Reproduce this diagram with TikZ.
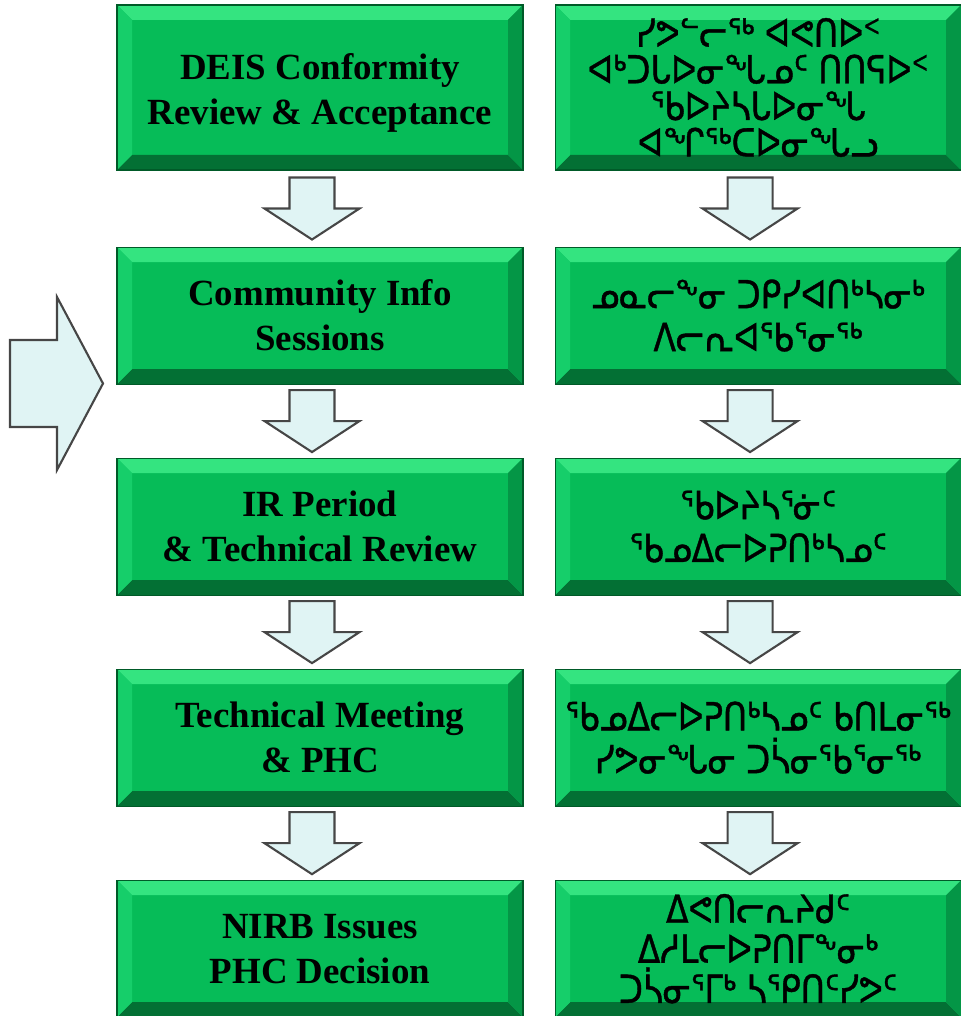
\documentclass[tikz,border=0pt]{standalone}
\usepackage{fontspec}
\setmainfont{Liberation Serif}
\newfontfamily\syllfont[FakeStretch=0.85,FakeBold=1]{DejaVu Sans}
\usetikzlibrary{positioning}
\usetikzlibrary{calc}

\definecolor{boxface}{RGB}{6,188,88}
\definecolor{bevtop}{RGB}{52,228,128}
\definecolor{bevleft}{RGB}{22,206,106}
\definecolor{bevright}{RGB}{4,150,70}
\definecolor{bevbottom}{RGB}{3,112,52}
\definecolor{boxedge}{RGB}{0,90,40}
\definecolor{arrowfill}{RGB}{224,244,244}
\definecolor{arrowedge}{RGB}{70,70,70}

\newcommand{\bev}{0.15}

\tikzset{
  stage/.style={rectangle, inner sep=0pt, minimum width=4.06cm, minimum height=1.37cm,
    fill=boxface, draw=boxedge, line width=0.3pt, align=center,
    path picture={
      \path (path picture bounding box.south west) coordinate (pa)
            (path picture bounding box.north east) coordinate (pb);
      \fill[bevtop] (pa |- pb) -- (pb) -- ($(pb)+(-\bev,-\bev)$) -- ($(pa |- pb)+(\bev,-\bev)$) -- cycle;
      \fill[bevbottom] (pa) -- (pb |- pa) -- ($(pb |- pa)+(-\bev,\bev)$) -- ($(pa)+(\bev,\bev)$) -- cycle;
      \fill[bevleft] (pa) -- (pa |- pb) -- ($(pa |- pb)+(\bev,-\bev)$) -- ($(pa)+(\bev,\bev)$) -- cycle;
      \fill[bevright] (pb |- pa) -- (pb) -- ($(pb)+(-\bev,-\bev)$) -- ($(pb |- pa)+(-\bev,\bev)$) -- cycle;
    }},
  en/.style={font=\bfseries\fontsize{10.5}{12.8}\selectfont},
  iu/.style={font=\syllfont\fontsize{11}{12.2}\selectfont},
  blockarrow/.style={fill=arrowfill, draw=arrowedge, line width=0.6pt, line join=miter}
}

\begin{document}
\begin{tikzpicture}
  \useasboundingbox (0,0) rectangle (9.6,10.16);

  % english column
  \node[stage, en, minimum height=1.65cm] (l1) at (3.20,9.285) {\rule{0pt}{0.36cm}DEIS Conformity\\Review \& Acceptance};
  \node[stage, en] (l2) [below=0.76cm of l1] {Community Info\\Sessions};
  \node[stage, en] (l3) [below=0.73cm of l2] {IR Period\\\& Technical Review};
  \node[stage, en] (l4) [below=0.73cm of l3] {Technical Meeting\\\& PHC};
  \node[stage, en] (l5) [below=0.73cm of l4] {NIRB Issues\\PHC Decision};

  % inuktitut column
  \node[stage, iu, minimum height=1.65cm, font=\syllfont\fontsize{11}{10.4}\selectfont] (r1) [right=0.31cm of l1]
    {ᓯᕗᓪᓕᖅ ᐊᕙᑎᐅᑉ\\ᐊᒃᑐᒐᐅᓂᖓᓄᑦ ᑎᑎᕋᐅᑉ\\ᖃᐅᔨᓴᒐᐅᓂᖓ\\ᐊᖏᖅᑕᐅᓂᖓᓗ};
  \node[stage, iu] (r2) [right=0.31cm of l2] {ᓄᓇᓕᖕᓂ ᑐᑭᓯᐊᑎᒃᓴᓂᒃ\\ᐱᓕᕆᐊᖃᕐᓂᖅ};
  \node[stage, iu] (r3) [right=0.31cm of l3] {ᖃᐅᔨᓴᕐᓃᑦ\\ᖃᓄᐃᓕᐅᕈᑎᒃᓴᓄᑦ};
  \node[stage, iu] (r4) [right=0.31cm of l4] {ᖃᓄᐃᓕᐅᕈᑎᒃᓴᓄᑦ ᑲᑎᒪᓂᖅ\\ᓯᕗᓂᖓᓂ ᑐᓵᓂᖃᕐᓂᖅ};
  \node[stage, iu, font=\syllfont\fontsize{11}{11.4}\selectfont] (r5) [right=0.31cm of l5]
    {ᐃᕙᑎᓕᕆᔨᑯᑦ\\ᐃᓱᒪᓕᐅᕈᑎᒥᖕᓂᒃ\\ᑐᓵᓂᕐᒥᒃ ᓴᕿᑎᑦᓯᕗᑦ};

  % down arrows between the stages
  \foreach \a/\b [count=\i] in {l1/l2,l2/l3,l3/l4,l4/l5,r1/r2,r2/r3,r3/r4,r4/r5} {
    \coordinate (mid\i) at ($(\a.south)!0.5!(\b.north)+(-0.08,0)$);
    \draw[blockarrow, shift={(mid\i)}] (-0.225,0.31) -- (0.225,0.31) -- (0.225,0) -- (0.475,0)
      -- (0,-0.31) -- (-0.475,0) -- (-0.225,0) -- cycle;
  }

  % big arrow on the left
  \coordinate (feed) at (0.10,6.325);
  \draw[blockarrow, shift={(feed)}] (0,0.435) -- (0.47,0.435) -- (0.47,0.865) -- (0.93,0)
    -- (0.47,-0.865) -- (0.47,-0.435) -- (0,-0.435) -- cycle;
\end{tikzpicture}
\end{document}
